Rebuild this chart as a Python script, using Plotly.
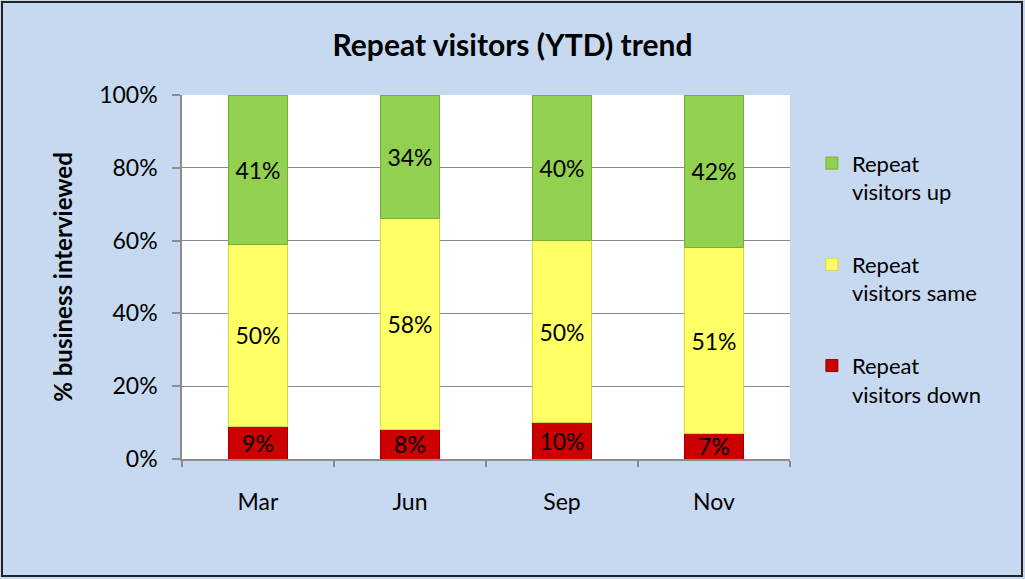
import plotly.graph_objects as go

categories = ["Mar", "Jun", "Sep", "Nov"]
down = [9, 8, 10, 7]
same = [50, 58, 50, 51]
up = [41, 34, 40, 42]
series_names = ["Repeat<br>visitors down", "Repeat<br>visitors same", "Repeat<br>visitors up"]
legend_ranks = [3, 2, 1]
y_ticks = [0, 20, 40, 60, 80, 100]
y_labels = ["0%", "20%", "40%", "60%", "80%", "100%"]
colors = ["#CC0000", "#FFFF66", "#92D050"]
edge = ["#A00000", "#D8D840", "#76B03A"]

W, H = 1025, 579
L, R, T, B = 182, 235, 95, 120
FONT = "Lato, Carlito, Calibri, sans-serif"

fig = go.Figure()
for name, vals, c, e, rk in zip(series_names, [down, same, up], colors, edge, legend_ranks):
    fig.add_trace(go.Bar(
        x=categories, y=vals, name=name, legendgroup=name, legendrank=rk,
        marker=dict(color=c, line=dict(color=e, width=1)),
        text=[f"{v}%" for v in vals], textposition="inside",
        insidetextanchor="middle", textangle=0,
        textfont=dict(color="black", size=23, family=FONT),
        width=0.39,
    ))

pw = W - L - R
ph = H - T - B
fig.update_layout(
    width=W, height=H, barmode="stack",
    margin=dict(l=L, r=R, t=T, b=B),
    paper_bgcolor="#C6D9F1", plot_bgcolor="white",
    font=dict(family=FONT, color="black", size=23),
    title=dict(text="<b>Repeat visitors (YTD) trend</b>", x=0.5, xref="container",
               y=1 - 45 / H, yref="container", yanchor="middle", xanchor="center",
               font=dict(size=30, family=FONT)),
    legend=dict(traceorder="grouped", x=1.036, y=0.87, xanchor="left", yanchor="top",
                font=dict(size=22, family=FONT), bgcolor="rgba(0,0,0,0)",
                tracegroupgap=41, itemwidth=30, valign="top"),
    showlegend=True,
    uniformtext=dict(mode="show", minsize=23),
    shapes=[dict(type="rect", xref="paper", yref="paper",
                 x0=(2 - L) / pw, x1=(1022 - L) / pw,
                 y0=(H - B - 576) / ph, y1=(H - B - 2) / ph,
                 line=dict(color="#222222", width=2), layer="below")],
)
fig.update_yaxes(range=[0, 100], tickvals=y_ticks, ticktext=y_labels,
                 showgrid=True, gridcolor="#8C8C8C", gridwidth=1.3,
                 showline=True, linecolor="#8C8C8C", linewidth=1.5,
                 ticks="outside", ticklen=8, tickcolor="#8C8C8C", tickwidth=1.5,
                 ticklabelstandoff=10, tickfont=dict(size=23),
                 title=dict(text="<b>% business interviewed</b>", font=dict(size=24), standoff=20),
                 zeroline=False)
fig.update_xaxes(showline=True, linecolor="#8C8C8C", linewidth=1.5,
                 ticks="outside", tickson="boundaries", ticklen=6, tickcolor="#8C8C8C",
                 tickwidth=1.5, ticklabelstandoff=22, tickfont=dict(size=23))
fig.write_html("out.html", config={"displayModeBar": False},
               post_script="document.body.style.margin='0';document.body.style.padding='0';")
